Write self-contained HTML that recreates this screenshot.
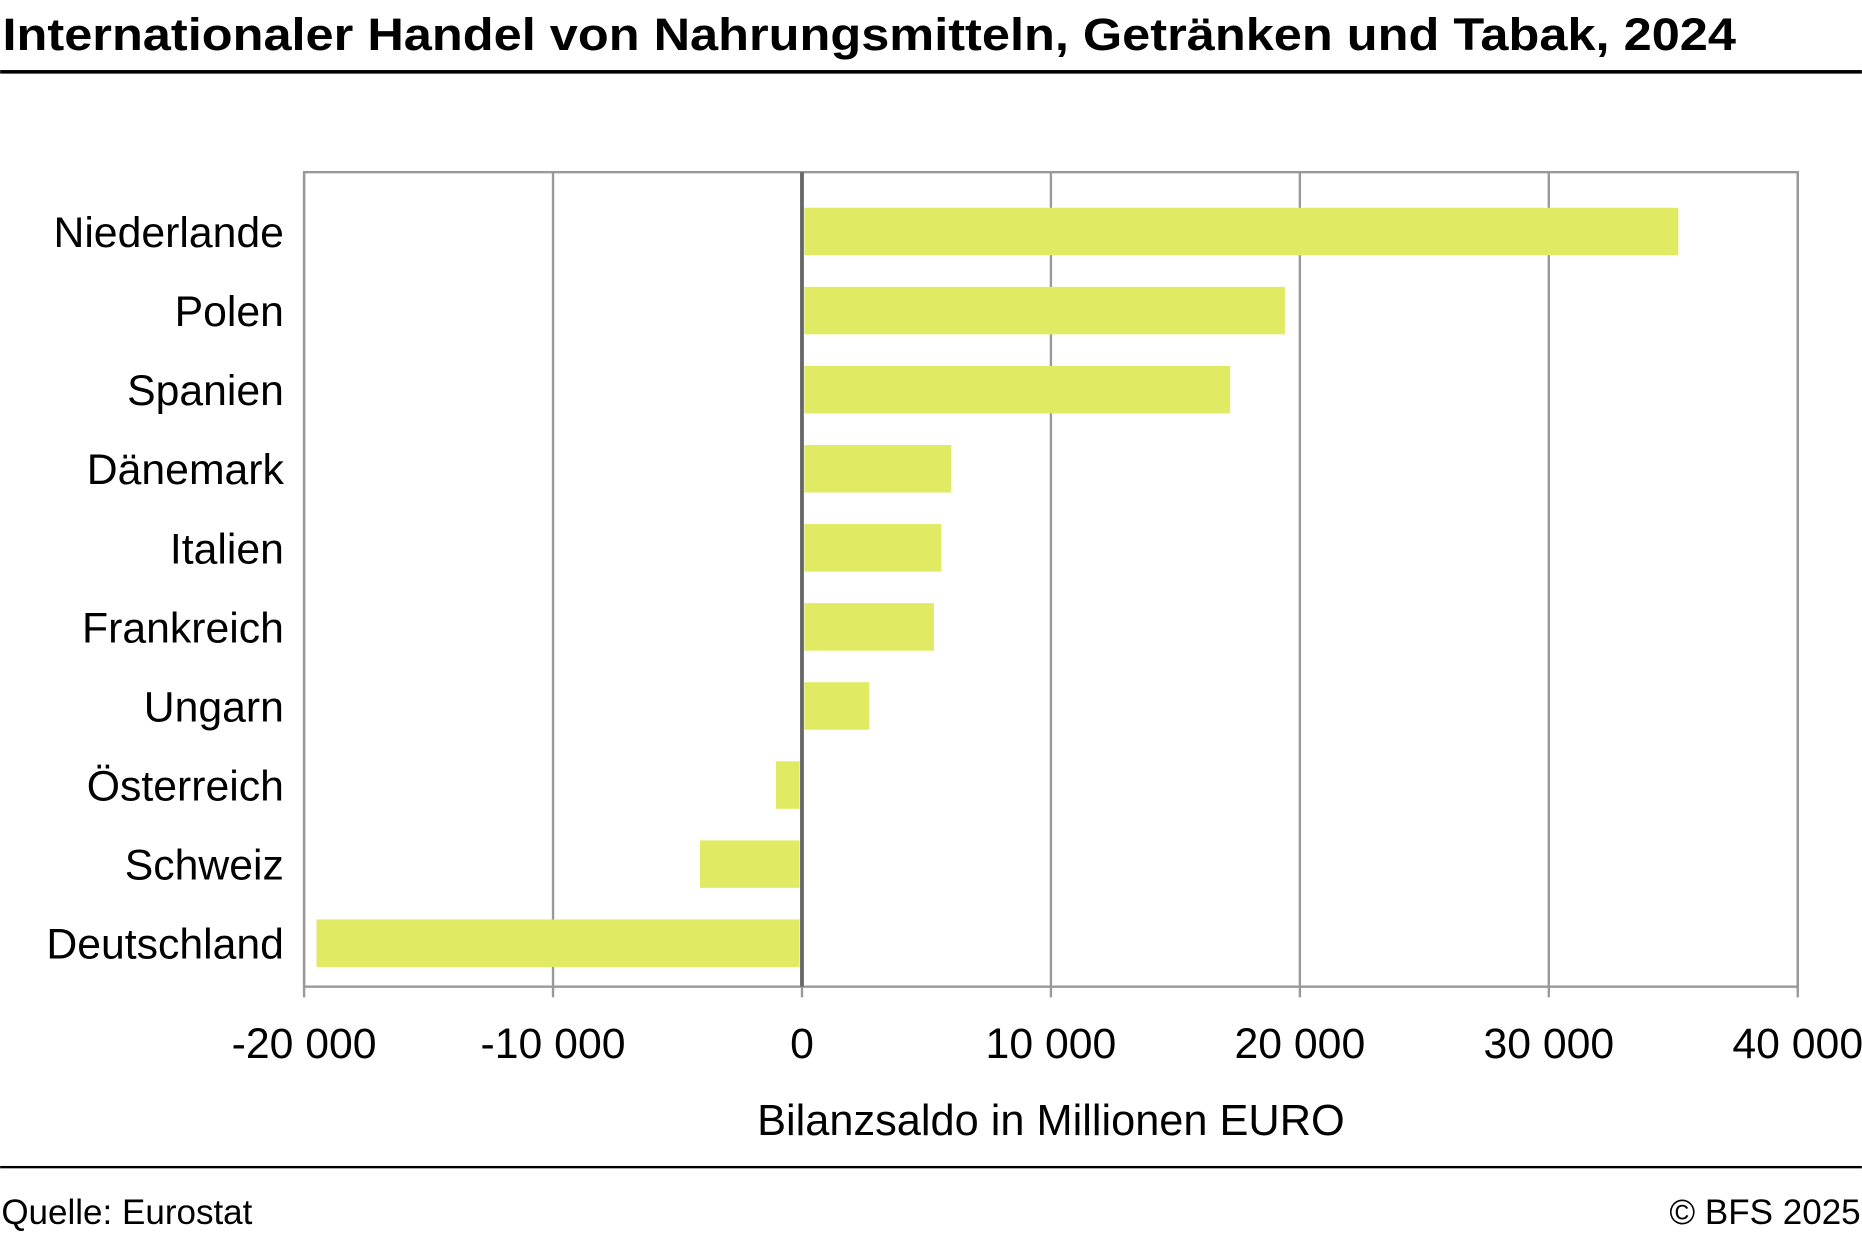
<!DOCTYPE html>
<html><head><meta charset="utf-8"><style>
html,body{margin:0;padding:0;background:#fff}
svg{display:block;font-family:"Liberation Sans",sans-serif}
</style></head><body>
<svg id="chart" width="1862" height="1236" viewBox="0 0 1568 1041" xmlns="http://www.w3.org/2000/svg">
<text x="2" y="42" font-size="38" font-weight="bold" textLength="1460" lengthAdjust="spacingAndGlyphs">Internationaler Handel von Nahrungsmitteln, Getränken und Tabak, 2024</text>
<rect x="0" y="59" width="1568" height="3" fill="#000"/>
<g id="grid"></g>
<g id="bars"></g>
<g id="labels"></g>
<g id="ticks"></g>
<text x="885" y="956" font-size="36.5" text-anchor="middle">Bilanzsaldo in Millionen EURO</text>
<rect x="0" y="982" width="1568" height="2" fill="#000"/>
<text x="1" y="1031" font-size="29.5">Quelle: Eurostat</text>
<text x="1567" y="1031" font-size="29.5" text-anchor="end">© BFS 2025</text>
</svg>
<script>
const categories = ["Niederlande","Polen","Spanien","Dänemark","Italien","Frankreich","Ungarn","Österreich","Schweiz","Deutschland"];
const values = [35200,19400,17200,6000,5600,5300,2700,-1050,-4100,-19500];
const ticks = [-20000,-10000,0,10000,20000,30000,40000];
const tickLabels = ["-20 000","-10 000","0","10 000","20 000","30 000","40 000"];
const NS="http://www.w3.org/2000/svg";
const L=256,R=1514,T=145,B=831,min=-20000,max=40000;
const x=v=>L+(v-min)/(max-min)*(R-L);
const step=(B-T-20)/categories.length;
const y=i=>195+i*step;
function mk(t,a,p){const e=document.createElementNS(NS,t);for(const k in a)e.setAttribute(k,a[k]);p.appendChild(e);return e;}
const grid=document.getElementById('grid');
ticks.forEach((t,i)=>{
  const l=mk('line',{x1:x(t),x2:x(t),y1:T,y2:B,stroke:t===0?'#666':'#999','stroke-width':t===0?3:2},grid);
  
  
  const tk=mk('line',{x1:x(t),x2:x(t),y1:B,y2:B+9,stroke:'#999','stroke-width':2},grid);
  
  
  const tx=mk('text',{x:x(t),y:891,'font-size':36,'text-anchor':'middle'},document.getElementById('ticks'));
  tx.textContent=tickLabels[i];
  
  
});
const fr=mk('rect',{x:L,y:T,width:R-L,height:B-T,fill:'none',stroke:'#999','stroke-width':2},grid);


categories.forEach((c,i)=>{
  const v=values[i];
  const r=mk('rect',{x:Math.min(x(0),x(v))+(v>0?2:0),y:y(i)-20,width:Math.abs(x(v)-x(0))-2,height:40,fill:'#e0ea62'},document.getElementById('bars'));
  
  
  const t=mk('text',{x:239,y:y(i)+13,'font-size':36,'text-anchor':'end'},document.getElementById('labels'));
  t.textContent=c;
  
  
});
const z=mk('line',{x1:x(0),x2:x(0),y1:T,y2:B,stroke:'#666','stroke-width':3},document.getElementById('chart'));


</script>
</body></html>
